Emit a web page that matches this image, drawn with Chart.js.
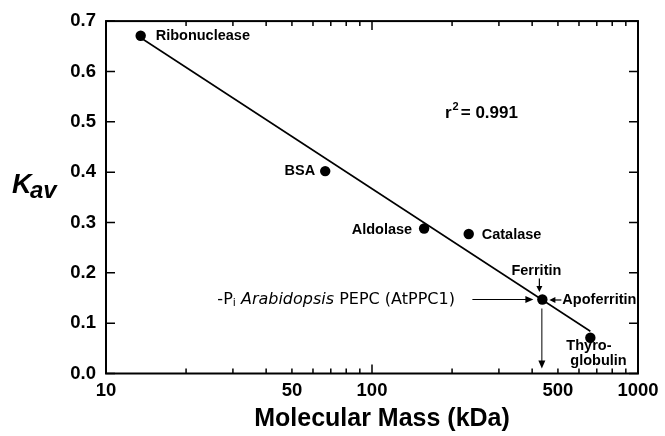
<!DOCTYPE html>
<html>
<head>
<meta charset="utf-8">
<script src="https://cdn.jsdelivr.net/npm/chart.js@4"></script>
<style>
  html, body { margin: 0; padding: 0; background: #fff; }
</style>
</head>
<body>
<canvas id="kavChart" width="665" height="436"></canvas>
<script>
// calibration standards: Kav vs molecular mass
const proteins = ["Ribonuclease", "BSA", "Aldolase", "Catalase", "Ferritin", "Thyroglobulin"];
const massKDa = [13.5, 66.7, 157, 231, 437, 662];
const kavValues = [0.671, 0.402, 0.288, 0.277, 0.147, 0.071];

// regression line end points
const fitMass = [13.5, 662];
const fitKav = [0.667, 0.084];

// axis ticks
const xTickValues = [10, 20, 30, 40, 50, 60, 70, 80, 90, 100, 200, 300, 400, 500, 600, 700, 800, 900, 1000];
const xTickLabels = [10, 50, 100, 500, 1000];
const yTickValues = [0, 0.1, 0.2, 0.3, 0.4, 0.5, 0.6, 0.7];

const FONT = '"Liberation Sans", Arial, sans-serif';

// label placement next to each point (pixels)
const labelPos = {
    Ribonuclease: { dx: 15, dy: 0, align: "left" },
    BSA: { dx: -10, dy: 0, align: "right" },
    Aldolase: { dx: -12, dy: 1, align: "right" },
    Catalase: { dx: 13, dy: 0.5, align: "left" }
};

function arrow(ctx, x1, y1, x2, y2, len, half) {
    const ang = Math.atan2(y2 - y1, x2 - x1);
    ctx.beginPath();
    ctx.moveTo(x1, y1);
    ctx.lineTo(x2 - Math.cos(ang) * len * 0.8, y2 - Math.sin(ang) * len * 0.8);
    ctx.stroke();
    ctx.beginPath();
    ctx.moveTo(x2, y2);
    ctx.lineTo(x2 - Math.cos(ang) * len - Math.sin(ang) * half, y2 - Math.sin(ang) * len + Math.cos(ang) * half);
    ctx.lineTo(x2 - Math.cos(ang) * len + Math.sin(ang) * half, y2 - Math.sin(ang) * len - Math.cos(ang) * half);
    ctx.closePath();
    ctx.fill();
}

const annotate = {
    id: "annotate",
    afterDatasetsDraw(chart) {
        const { ctx, chartArea: a, scales: { x, y } } = chart;
        ctx.save();
        ctx.strokeStyle = "#000";
        ctx.fillStyle = "#000";

        // frame
        ctx.lineWidth = 2;
        ctx.strokeRect(a.left, a.top, a.right - a.left, a.bottom - a.top);

        // inward tick marks
        ctx.lineWidth = 1.5;
        ctx.beginPath();
        x.ticks.forEach(t => {
            const px = x.getPixelForValue(t.value);
            const len = Number.isInteger(Math.log10(t.value)) ? 9 : 5;
            ctx.moveTo(px, a.bottom); ctx.lineTo(px, a.bottom - len);
            ctx.moveTo(px, a.top); ctx.lineTo(px, a.top + len);
        });
        y.ticks.forEach(t => {
            const py = y.getPixelForValue(t.value);
            ctx.moveTo(a.left, py); ctx.lineTo(a.left + 9, py);
            ctx.moveTo(a.right, py); ctx.lineTo(a.right - 9, py);
        });
        ctx.stroke();

        // point labels
        ctx.font = "bold 14.5px " + FONT;
        ctx.textBaseline = "middle";
        proteins.forEach((name, i) => {
            const p = labelPos[name];
            if (!p) return;
            ctx.textAlign = p.align;
            ctx.fillText(name, x.getPixelForValue(massKDa[i]) + p.dx, y.getPixelForValue(kavValues[i]) + p.dy);
        });

        // ferritin / AtPPC1 point
        const fx = x.getPixelForValue(massKDa[4]);
        const fy = y.getPixelForValue(kavValues[4]);
        ctx.textAlign = "center";
        ctx.fillText("Ferritin", fx - 6, fy - 28);
        ctx.textAlign = "left";
        ctx.fillText("Apoferritin", fx + 20, fy + 0.5);

        // thyroglobulin
        const tx = x.getPixelForValue(massKDa[5]);
        const ty = y.getPixelForValue(kavValues[5]);
        ctx.fillText("Thyro-", tx - 24, ty + 8.5);
        ctx.fillText("globulin", tx - 20, ty + 23.5);

        // arrows
        ctx.lineWidth = 1.2;
        arrow(ctx, fx - 70, fy, fx - 9, fy, 8, 3.5);
        arrow(ctx, fx + 19, fy + 0.5, fx + 7, fy + 0.5, 6, 3);
        arrow(ctx, fx - 3, fy - 21, fx - 3, fy - 7.5, 6, 3);
        ctx.lineWidth = 1;
        arrow(ctx, fx - 0.5, fy + 9, fx - 0.5, a.bottom - 5, 8, 3.5);

        // AtPPC1 annotation
        let cx = fx - 325;
        ctx.font = '16px "DejaVu Sans", sans-serif';
        ctx.fillText("-P", cx, fy);
        cx += ctx.measureText("-P").width;
        ctx.font = '11px "DejaVu Sans", sans-serif';
        ctx.fillText("i", cx, fy + 4);
        cx += ctx.measureText("i").width;
        ctx.font = 'italic 16px "DejaVu Sans", sans-serif';
        ctx.fillText(" Arabidopsis", cx, fy);
        cx += ctx.measureText(" Arabidopsis").width;
        ctx.font = '16px "DejaVu Sans", sans-serif';
        ctx.fillText(" PEPC (AtPPC1)", cx, fy);

        // r squared
        let rx = 445;
        ctx.font = "bold 17px " + FONT;
        ctx.fillText("r", rx, 113);
        rx += ctx.measureText("r").width + 1;
        ctx.font = "bold 11px " + FONT;
        ctx.fillText("2", rx, 107);
        rx += ctx.measureText("2").width + 2;
        ctx.font = "bold 17px " + FONT;
        ctx.fillText("= 0.991", rx, 113);

        ctx.restore();
    },
    afterDraw(chart) {
        const { ctx } = chart;
        ctx.save();
        ctx.fillStyle = "#000";
        ctx.textBaseline = "alphabetic";
        // x axis title
        ctx.textAlign = "center";
        ctx.font = "bold 25px " + FONT;
        ctx.fillText("Molecular Mass (kDa)", 382, 426);
        // y axis title K_av
        ctx.textAlign = "left";
        ctx.font = "italic bold 27px " + FONT;
        ctx.fillText("K", 12, 193);
        ctx.font = "italic bold 24px " + FONT;
        ctx.fillText("av", 30, 198);
        ctx.restore();
    }
};

new Chart(document.getElementById("kavChart"), {
    type: "scatter",
    data: {
        datasets: [
            {
                label: "Standards",
                data: massKDa.map((m, i) => ({ x: m, y: kavValues[i] })),
                pointRadius: 5.2,
                pointBackgroundColor: "#000",
                pointBorderWidth: 0,
                showLine: false
            },
            {
                label: "Fit",
                data: fitMass.map((m, i) => ({ x: m, y: fitKav[i] })),
                showLine: true,
                pointRadius: 0,
                borderColor: "#000",
                borderWidth: 1.6
            }
        ]
    },
    options: {
        responsive: false,
        animation: false,
        layout: { padding: { top: 20, right: 27, left: 0, bottom: 0 } },
        scales: {
            x: {
                type: "logarithmic",
                min: 10,
                max: 1000,
                afterBuildTicks: s => { s.ticks = xTickValues.map(v => ({ value: v })); },
                afterFit: s => { s.height = 62.5; },
                grid: { display: false, drawTicks: false },
                border: { display: false },
                ticks: {
                    autoSkip: false,
                    maxRotation: 0,
                    padding: 6,
                    color: "#000",
                    font: { family: FONT, size: 18.5, weight: "bold" },
                    callback: v => xTickLabels.includes(v) ? String(v) : ""
                }
            },
            y: {
                min: 0,
                max: 0.7,
                afterBuildTicks: s => { s.ticks = yTickValues.map(v => ({ value: v })); },
                afterFit: s => { s.width = 106; },
                grid: { display: false, drawTicks: false },
                border: { display: false },
                ticks: {
                    padding: 10,
                    color: "#000",
                    font: { family: FONT, size: 18.5, weight: "bold" },
                    callback: v => v.toFixed(1)
                }
            }
        },
        plugins: {
            legend: { display: false },
            tooltip: { enabled: false }
        }
    },
    plugins: [annotate]
});
</script>
</body>
</html>
